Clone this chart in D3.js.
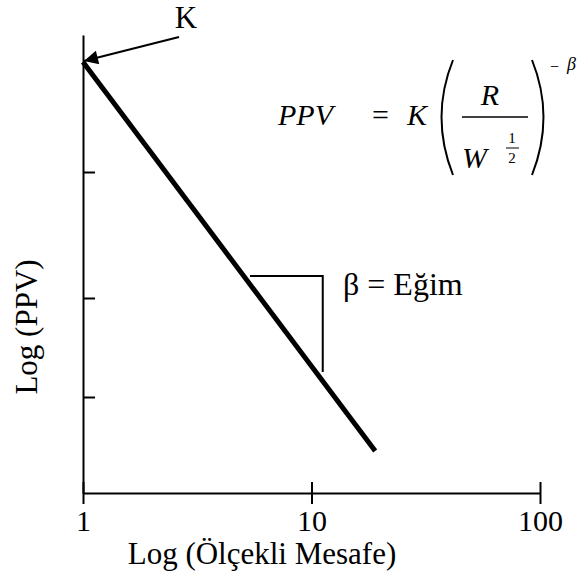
<!DOCTYPE html>
<html>
<head>
<meta charset="utf-8">
<script src="https://cdn.jsdelivr.net/npm/d3@7"></script>
<style>
  body { margin: 0; background: #fff; }
  svg text { font-family: "Liberation Serif", Tinos, "Times New Roman", Times, "DejaVu Serif", serif !important; fill: #000; }
</style>
</head>
<body>
<svg width="581" height="574"></svg>
<script>
// data
const xTicks = [1, 10, 100];
const yTicks = [0.96, 1.95, 3.21];
const lineX = [1, 19];
const lineY = [4.31, 0.42];
const triX = [5.38, 11.2, 11.2];
const triY = [2.17, 2.17, 1.21];

const svg = d3.select('svg');

const x = d3.scaleLog().domain([1, 100]).range([83, 540]);
const y = d3.scaleLinear().domain([0, 4.58]).range([493, 35]);

// x axis
const xAxis = svg.append('g')
  .attr('transform', `translate(0, ${y(0)})`)
  .call(d3.axisBottom(x).tickValues(xTicks).tickFormat(d3.format('d')).tickSize(11).tickSizeOuter(0));
xAxis.attr('font-family', null);
xAxis.select('.domain').attr('stroke-width', 2);
xAxis.selectAll('.tick line').attr('y1', -11).attr('stroke-width', 2);
xAxis.selectAll('.tick text')
  .attr('y', 38).attr('dy', null)
  .style('font-size', '30px');

// y axis
const yAxis = svg.append('g')
  .attr('transform', `translate(${x(1)}, 0)`)
  .call(d3.axisLeft(y).tickValues(yTicks).tickFormat('').tickSize(13).tickSizeOuter(0));
yAxis.select('.domain').attr('stroke-width', 2);
yAxis.selectAll('.tick line').attr('x2', 12).attr('stroke-width', 2);

// main line
const line = d3.line().x(d => x(d[0])).y(d => y(d[1]));
svg.append('path')
  .datum(d3.zip(lineX, lineY))
  .attr('d', line)
  .attr('fill', 'none')
  .attr('stroke', '#000')
  .attr('stroke-width', 5);

// slope triangle
svg.append('path')
  .datum(d3.zip(triX, triY))
  .attr('d', line)
  .attr('fill', 'none')
  .attr('stroke', '#000')
  .attr('stroke-width', 2);

svg.append('text')
  .attr('x', 343).attr('y', 295)
  .style('font-size', '32px')
  .text('β = Eğim');

// K arrow
svg.append('defs').append('marker')
  .attr('id', 'head')
  .attr('viewBox', '0 0 10 10')
  .attr('refX', 10).attr('refY', 5)
  .attr('markerWidth', 18).attr('markerHeight', 14)
  .attr('markerUnits', 'userSpaceOnUse')
  .attr('orient', 'auto')
  .append('path')
  .attr('d', 'M0,0 L10,5 L0,10 Z')
  .attr('fill', '#000');

const tipX = x(lineX[0]) + 1, tipY = y(lineY[0]) - 1;
svg.append('line')
  .attr('x1', tipX + 95).attr('y1', tipY - 24)
  .attr('x2', tipX).attr('y2', tipY)
  .attr('stroke', '#000')
  .attr('stroke-width', 2)
  .attr('marker-end', 'url(#head)');

svg.append('text')
  .attr('x', 186).attr('y', 28)
  .attr('text-anchor', 'middle')
  .style('font-size', '31px')
  .text('K');

// axis titles
svg.append('text')
  .attr('x', 262).attr('y', 564)
  .attr('text-anchor', 'middle')
  .style('font-size', '31px')
  .text('Log (Ölçekli Mesafe)');

svg.append('text')
  .attr('transform', 'translate(37, 327) rotate(-90)')
  .attr('text-anchor', 'middle')
  .style('font-size', '31px')
  .text('Log (PPV)');

// formula
const f = svg.append('g');
f.append('text').attr('x', 278).attr('y', 125)
  .style('font-size', '30px').style('font-style', 'italic').text('PPV');
f.append('text').attr('x', 372).attr('y', 125)
  .style('font-size', '30px').text('=');
f.append('text').attr('x', 407).attr('y', 125)
  .style('font-size', '30px').style('font-style', 'italic').text('K');
f.append('path').attr('d', 'M453,60 Q430,117 453,175')
  .attr('fill', 'none').attr('stroke', '#000').attr('stroke-width', 2);
f.append('path').attr('d', 'M532,60 Q555,117 532,175')
  .attr('fill', 'none').attr('stroke', '#000').attr('stroke-width', 2);
f.append('text').attr('x', 490).attr('y', 105).attr('text-anchor', 'middle')
  .style('font-size', '30px').style('font-style', 'italic').text('R');
f.append('line').attr('x1', 462).attr('x2', 528).attr('y1', 117).attr('y2', 117)
  .attr('stroke', '#000').attr('stroke-width', 1.5);
f.append('text').attr('x', 462).attr('y', 168)
  .style('font-size', '30px').style('font-style', 'italic').text('W');
f.append('text').attr('x', 512).attr('y', 143).attr('text-anchor', 'middle')
  .style('font-size', '15px').text('1');
f.append('line').attr('x1', 506).attr('x2', 519).attr('y1', 148).attr('y2', 148)
  .attr('stroke', '#000').attr('stroke-width', 1);
f.append('text').attr('x', 512).attr('y', 163).attr('text-anchor', 'middle')
  .style('font-size', '15px').text('2');
f.append('text').attr('x', 550).attr('y', 72)
  .style('font-size', '16px').text('−');
f.append('text').attr('x', 567).attr('y', 70)
  .style('font-size', '18px').style('font-style', 'italic').text('β');
</script>
</body>
</html>
